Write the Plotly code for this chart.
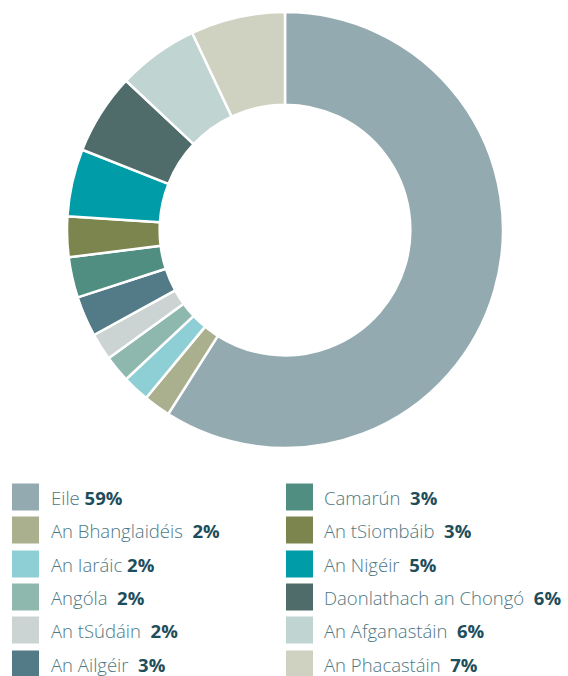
import plotly.graph_objects as go

labels = ["Eile", "An Bhanglaidéis", "An Iaráic", "Angóla", "An tSúdáin", "An Ailgéir",
          "Camarún", "An tSiombáib", "An Nigéir", "Daonlathach an Chongó", "An Afganastáin", "An Phacastáin"]
values = [59, 2, 2, 2, 2, 3, 3, 3, 5, 6, 6, 7]
colors = ["#93AAB0", "#AAB08E", "#8ECFD6", "#8EB7AE", "#CBD3D3", "#527A87",
          "#518E82", "#7C854D", "#009DA8", "#4F6B6A", "#C0D4D2", "#CFD2C0"]
gaps = ["", "&nbsp;", "", "&nbsp;", "&nbsp;", "&nbsp;", "&nbsp;", "&nbsp;", "&nbsp;", "&nbsp;", "&nbsp;", "&nbsp;"]

W, H = 568, 676


def px(x):
    return x / W


def py(y):
    return 1 - y / H


fig = go.Figure(go.Pie(
    labels=labels, values=values, sort=False, direction="clockwise", rotation=0,
    hole=0.575, marker=dict(colors=colors, line=dict(color="white", width=2.5)),
    textinfo="none", showlegend=False,
    domain=dict(x=[px(285 - 218), px(285 + 218)], y=[py(448), py(12)]),
))

shapes = []
annotations = []
row_y = [497, 530, 564, 597, 630, 664]
for i, (lab, v, c, g) in enumerate(zip(labels, values, colors, gaps)):
    col = i // 6
    r = i % 6
    sx0 = 12 if col == 0 else 286
    tx = 49 if col == 0 else 322
    yc = row_y[r]
    shapes.append(dict(type="rect", xref="paper", yref="paper",
                       x0=px(sx0), x1=px(sx0 + 27), y0=py(yc + 13.5), y1=py(yc - 13.5),
                       fillcolor=c, line=dict(width=0)))
    annotations.append(dict(xref="paper", yref="paper", x=px(tx), y=py(yc),
                            xanchor="left", yanchor="middle", showarrow=False,
                            text=f"{lab} {g}<b><span style='color:#1E4E5B'>{v}%</span></b>",
                            font=dict(family="Open Sans", size=18.5, color="#4E7782", weight=300)))

fig.update_layout(width=W, height=H, margin=dict(l=0, r=0, t=0, b=0),
                  paper_bgcolor="white", plot_bgcolor="white",
                  shapes=shapes, annotations=annotations)
fig.write_html("out.html", config={"displayModeBar": False},
               post_script="document.body.style.margin='0';document.body.style.overflow='hidden';")
